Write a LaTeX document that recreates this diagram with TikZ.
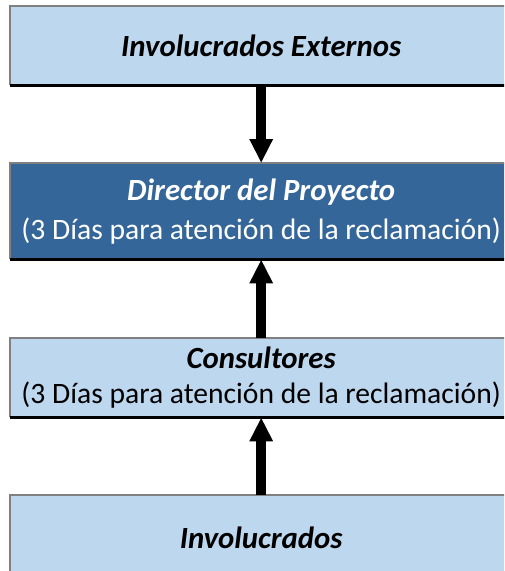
\documentclass[tikz,border=0pt]{standalone}
\usepackage{fontspec}
\setmainfont{Carlito}
\usetikzlibrary{arrows.meta}

\definecolor{boxlight}{RGB}{189,215,238}
\definecolor{boxdark}{RGB}{52,102,153}
\definecolor{boxedge}{RGB}{128,128,128}

\newcommand{\leveltitle}[1]{{\fontsize{30.8}{37}\selectfont\bfseries\itshape #1}}

\tikzset{
	levelbox/.style={fill=boxlight, draw=none, inner sep=0pt, anchor=north west,
		minimum width=502pt, align=center, text=black,
		font=\fontsize{29.6}{37}\selectfont},
	levelboxdark/.style={levelbox, fill=boxdark, text=white},
	flowarrow/.style={line width=10pt, -{Triangle[width=22pt, length=24pt]}},
}

\begin{document}
\begin{tikzpicture}[x=1pt, y=-1pt]
		\clip (0,0) rectangle (504,571);

		% --- level boxes (top to bottom) ---
		\node[levelbox, minimum height=79pt] (ext) at (10,6)
			{\leveltitle{Involucrados Externos}};
		\node[levelboxdark, minimum height=96pt, font=\fontsize{29.6}{39}\selectfont] (dir) at (10,163)
			{\leveltitle{Director del Proyecto}\\(3 Días para atención de la reclamación)};
		\node[levelbox, minimum height=79pt, font=\fontsize{29.6}{35}\selectfont] (cons) at (10,338)
			{\leveltitle{Consultores}\\(3 Días para atención de la reclamación)};
		\node[levelbox, minimum height=86pt] (inv) at (10,495)
			{\leveltitle{Involucrados}};

		% --- box edges: gray top/left, black bottom ---
		\foreach \n in {ext,dir,cons,inv} {
			\draw[boxedge, line width=2.5pt] (\n.south west) -- (\n.north west) -- (\n.north east);
			\draw[black, line width=3pt] (\n.south west) -- (\n.south east);
		}

		% --- escalation arrows ---
		\draw[flowarrow] (ext.south) -- (dir.north);
		\draw[flowarrow] (cons.north) -- (dir.south);
		\draw[flowarrow] (inv.north) -- (cons.south);
	\end{tikzpicture}
\end{document}
